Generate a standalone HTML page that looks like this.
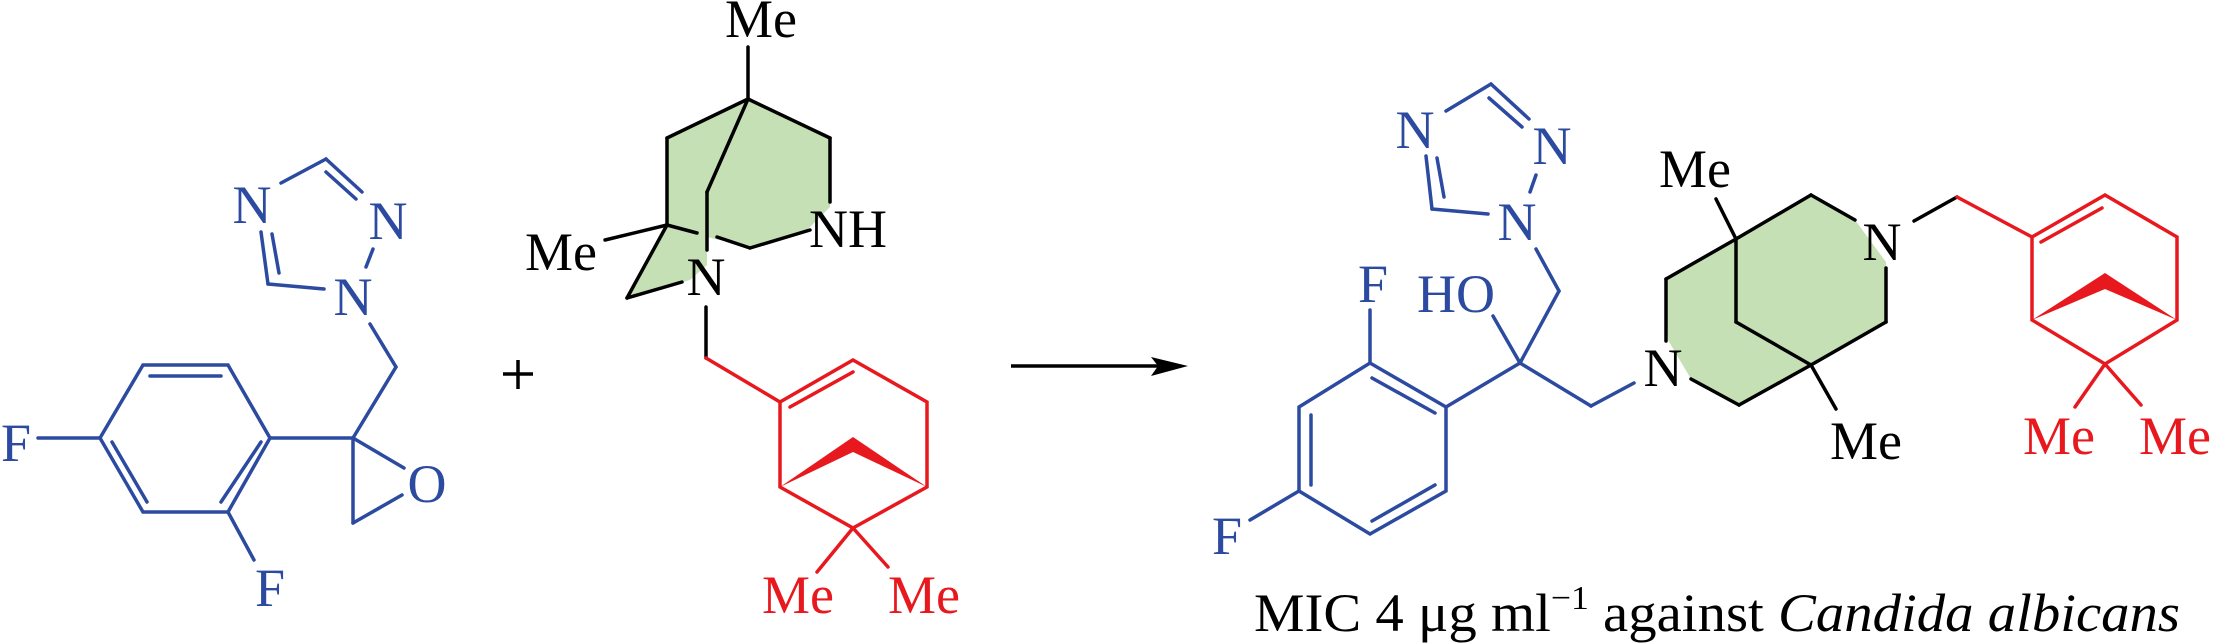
<!DOCTYPE html>
<html><head><meta charset="utf-8"><style>
html,body{margin:0;padding:0;background:#fff}
svg{display:block}
text{font-family:"Liberation Serif",serif;font-size:54px}
</style></head><body>
<svg width="2213" height="644" viewBox="0 0 2213 644" xmlns="http://www.w3.org/2000/svg">
<polygon points="748,99 830,138 830,207 808,229 750,247 707,237 707,265 690,280 627,298 667,225 667,138" fill="#c5e0b4"/>
<polygon points="1736,239 1811,195 1855,220 1886,262 1886,322 1811,365 1739,405 1691,379 1668,340 1666,279" fill="#c5e0b4"/>

<g stroke="#2b4aa0" stroke-width="3.5" fill="none" stroke-linecap="round">
<polygon points="143,365 228,365 270,438 228,512 143,512 100,438"/>
<line x1="150" y1="376" x2="221" y2="376"/>
<line x1="112" y1="442" x2="147" y2="502"/>
<line x1="261" y1="442" x2="221" y2="502"/>
<line x1="38" y1="438" x2="100" y2="438"/>
<line x1="228" y1="512" x2="254" y2="560"/>
<line x1="270" y1="438" x2="353" y2="438"/>
<line x1="353" y1="438" x2="404" y2="468"/>
<line x1="402" y1="495" x2="353" y2="523"/>
<line x1="353" y1="438" x2="353" y2="523"/>
<line x1="353" y1="438" x2="396" y2="367"/>
<line x1="396" y1="367" x2="370" y2="324"/>
<line x1="324" y1="289" x2="268" y2="284"/>
<line x1="268" y1="284" x2="261" y2="232"/>
<line x1="279" y1="273" x2="272" y2="234"/>
<line x1="281" y1="183" x2="326" y2="159"/>
<line x1="326" y1="159" x2="362" y2="192"/>
<line x1="326" y1="172" x2="356" y2="199"/>
<line x1="373" y1="249" x2="366" y2="267"/>
</g>
<g fill="#2b4aa0">
<text x="16" y="461" text-anchor="middle">F</text>
<text x="270" y="606" text-anchor="middle">F</text>
<text x="427" y="502" text-anchor="middle">O</text>
<text x="353" y="315" text-anchor="middle">N</text>
<text x="252" y="223" text-anchor="middle">N</text>
<text x="388" y="239" text-anchor="middle">N</text>
</g>

<g stroke="#000" stroke-width="3.5">
<line x1="503" y1="374" x2="533" y2="374"/>
<line x1="518" y1="360" x2="518" y2="389"/>
</g>

<g stroke="#000" stroke-width="3.5" fill="none" stroke-linecap="round">
<line x1="748" y1="47" x2="748" y2="99"/>
<line x1="748" y1="99" x2="667" y2="138"/>
<line x1="667" y1="138" x2="667" y2="225"/>
<line x1="667" y1="225" x2="605" y2="240"/>
<line x1="667" y1="225" x2="627" y2="298"/>
<line x1="627" y1="298" x2="682" y2="282"/>
<line x1="667" y1="225" x2="697" y2="233"/>
<line x1="717" y1="237" x2="750" y2="248"/>
<line x1="750" y1="248" x2="810" y2="230"/>
<line x1="748" y1="99" x2="707" y2="192"/>
<line x1="707" y1="192" x2="707" y2="250"/>
<line x1="748" y1="99" x2="830" y2="138"/>
<line x1="830" y1="138" x2="830" y2="202"/>
<line x1="706" y1="307" x2="706" y2="358"/>
</g>
<g fill="#000">
<text x="725" y="37">Me</text>
<text x="525" y="270">Me</text>
<text x="706" y="295" text-anchor="middle">N</text>
<text x="809" y="247">NH</text>
</g>

<g stroke="#e8191e" stroke-width="3.5" fill="none" stroke-linecap="round">
<line x1="706" y1="358" x2="780" y2="402"/>
<polyline points="780,402 853,360 927,402 927,487 853,528 780,487 780,402"/>
<line x1="790" y1="407" x2="853" y2="372"/>
<line x1="853" y1="528" x2="817" y2="572"/>
<line x1="853" y1="528" x2="888" y2="567"/>
</g>
<g fill="#e8191e">
<polygon points="780,487 853,437 853,452"/>
<polygon points="927,487 853,437 853,452"/>
<text x="762" y="613">Me</text>
<text x="888" y="613">Me</text>
</g>

<line x1="1011" y1="366" x2="1160" y2="366" stroke="#000" stroke-width="3.5"/>
<polygon points="1151,357 1188,366 1151,376 1158,366" fill="#000"/>

<g stroke="#2b4aa0" stroke-width="3.5" fill="none" stroke-linecap="round">
<line x1="1446" y1="111" x2="1491" y2="84"/>
<line x1="1491" y1="84" x2="1529" y2="119"/>
<line x1="1489" y1="98" x2="1522" y2="127"/>
<line x1="1536" y1="175" x2="1530" y2="192"/>
<line x1="1488" y1="214" x2="1432" y2="209"/>
<line x1="1432" y1="209" x2="1426" y2="156"/>
<line x1="1444" y1="197" x2="1437" y2="158"/>
<line x1="1536" y1="249" x2="1559" y2="291"/>
<line x1="1559" y1="291" x2="1520" y2="363"/>
<line x1="1520" y1="363" x2="1493" y2="316"/>
<line x1="1520" y1="363" x2="1446" y2="407"/>
<line x1="1520" y1="363" x2="1591" y2="406"/>
<line x1="1591" y1="406" x2="1634" y2="383"/>
<polygon points="1446,407 1370,363 1299,407 1299,491 1370,534 1446,491"/>
<line x1="1372" y1="378" x2="1435" y2="413"/>
<line x1="1311" y1="415" x2="1311" y2="485"/>
<line x1="1372" y1="521" x2="1435" y2="485"/>
<line x1="1370" y1="363" x2="1370" y2="310"/>
<line x1="1299" y1="491" x2="1250" y2="520"/>
</g>
<g fill="#2b4aa0">
<text x="1415" y="148" text-anchor="middle">N</text>
<text x="1552" y="164" text-anchor="middle">N</text>
<text x="1517" y="240" text-anchor="middle">N</text>
<text x="1417" y="312">HO</text>
<text x="1373" y="302" text-anchor="middle">F</text>
<text x="1227" y="554" text-anchor="middle">F</text>
</g>

<g stroke="#000" stroke-width="3.5" fill="none" stroke-linecap="round">
<line x1="1716" y1="199" x2="1736" y2="239"/>
<line x1="1736" y1="239" x2="1811" y2="195"/>
<line x1="1811" y1="195" x2="1855" y2="220"/>
<line x1="1914" y1="221" x2="1957" y2="197"/>
<line x1="1886" y1="268" x2="1886" y2="322"/>
<line x1="1886" y1="322" x2="1811" y2="365"/>
<line x1="1811" y1="365" x2="1836" y2="409"/>
<line x1="1736" y1="239" x2="1666" y2="279"/>
<line x1="1666" y1="279" x2="1666" y2="341"/>
<line x1="1691" y1="379" x2="1739" y2="405"/>
<line x1="1739" y1="405" x2="1811" y2="365"/>
<line x1="1736" y1="239" x2="1736" y2="322"/>
<line x1="1736" y1="322" x2="1811" y2="365"/>
</g>
<g fill="#000">
<text x="1659" y="187">Me</text>
<text x="1882" y="260" text-anchor="middle">N</text>
<text x="1663" y="386" text-anchor="middle">N</text>
<text x="1830" y="459">Me</text>
</g>

<g stroke="#e8191e" stroke-width="3.5" fill="none" stroke-linecap="round">
<line x1="1957" y1="197" x2="2032" y2="237"/>
<polyline points="2032,237 2105,195 2177,237 2177,320 2105,364 2032,320 2032,237"/>
<line x1="2041" y1="242" x2="2102" y2="208"/>
<line x1="2105" y1="364" x2="2075" y2="407"/>
<line x1="2105" y1="364" x2="2141" y2="405"/>
</g>
<g fill="#e8191e">
<polygon points="2032,320 2105,273 2105,289"/>
<polygon points="2177,320 2105,273 2105,289"/>
<text x="2023" y="454">Me</text>
<text x="2139" y="454">Me</text>
</g>

<text x="1254" y="631" font-size="56" textLength="926" lengthAdjust="spacingAndGlyphs">MIC 4 μg ml<tspan font-size="34" dy="-22">−1</tspan><tspan dy="22"> against </tspan><tspan font-style="italic">Candida albicans</tspan></text>
</svg>
</body></html>
